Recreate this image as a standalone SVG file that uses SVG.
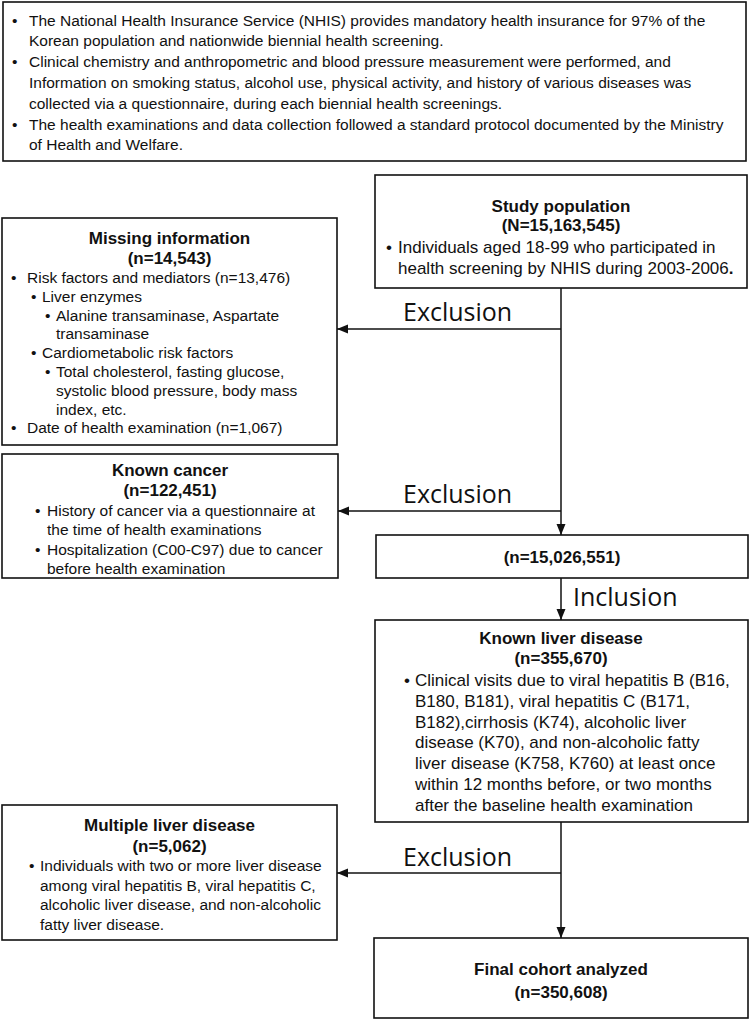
<svg xmlns="http://www.w3.org/2000/svg" width="750" height="1020" viewBox="0 0 750 1020">
<style>
.box{fill:#fff;stroke:#111;stroke-width:1.6}
.t{font-family:"Liberation Sans",Arial,sans-serif;font-size:15.5px;fill:#111}
.tl{font-family:"Liberation Sans",Arial,sans-serif;font-size:17px;fill:#111}
.h{font-family:"Liberation Sans",Arial,sans-serif;font-size:17px;font-weight:bold;fill:#111;text-anchor:middle}
.lab{font-family:"Open Sans","Noto Sans",sans-serif;font-size:25px;fill:#111}
.c{fill:none;stroke:#111;stroke-width:1.5}
</style>
<defs>
<marker id="ah" markerUnits="userSpaceOnUse" markerWidth="11" markerHeight="10" refX="11" refY="5" orient="auto">
<path d="M0,0.5 L11,5 L0,9.5 z" fill="#111"/>
</marker>
</defs>
<rect width="750" height="1020" fill="#fff"/>

<g id="info">
<rect class="box" x="3" y="2" width="743" height="159"/>
<text class="t" x="12" y="25.5">•</text>
<text class="t" x="29" y="25.5">The National Health Insurance Service (NHIS) provides mandatory health insurance for 97% of the</text>
<text class="t" x="29" y="46.3">Korean population and nationwide biennial health screening.</text>
<text class="t" x="12" y="67.1">•</text>
<text class="t" x="29" y="67.1">Clinical chemistry and anthropometric and blood pressure measurement were performed, and</text>
<text class="t" x="29" y="87.9">Information on smoking status, alcohol use, physical activity, and history of various diseases was</text>
<text class="t" x="29" y="108.7">collected via a questionnaire, during each biennial health screenings.</text>
<text class="t" x="12" y="129.5">•</text>
<text class="t" x="29" y="129.5">The health examinations and data collection followed a standard protocol documented by the Ministry</text>
<text class="t" x="29" y="150.3">of Health and Welfare.</text>
</g>

<g id="study">
<rect class="box" x="375" y="175" width="372" height="113"/>
<text class="h" x="561" y="212">Study population</text>
<text class="h" x="561" y="231">(N=15,163,545)</text>
<text class="tl" x="386" y="253">•</text>
<text class="tl" x="398" y="253">Individuals aged 18-99 who participated in</text>
<text class="tl" x="398" y="274">health screening by NHIS during 2003-2006<tspan font-weight="bold">.</tspan></text>
</g>

<g id="missing">
<rect class="box" x="2" y="218" width="335" height="227"/>
<text class="h" x="169.5" y="243.5">Missing information</text>
<text class="h" x="169.5" y="263.5">(n=14,543)</text>
<text class="t" x="11" y="283">•</text>
<text class="t" x="27" y="283">Risk factors and mediators (n=13,476)</text>
<text class="t" x="31" y="301.8">•</text>
<text class="t" x="42" y="301.8">Liver enzymes</text>
<text class="t" x="45" y="320.6">•</text>
<text class="t" x="56" y="320.6">Alanine transaminase, Aspartate</text>
<text class="t" x="56" y="339.4">transaminase</text>
<text class="t" x="31" y="358.2">•</text>
<text class="t" x="42" y="358.2">Cardiometabolic risk factors</text>
<text class="t" x="45" y="377">•</text>
<text class="t" x="56" y="377">Total cholesterol, fasting glucose,</text>
<text class="t" x="56" y="395.8">systolic blood pressure, body mass</text>
<text class="t" x="56" y="414.6">index, etc.</text>
<text class="t" x="11" y="433.4">•</text>
<text class="t" x="27" y="433.4">Date of health examination (n=1,067)</text>
</g>

<g id="cancer">
<rect class="box" x="2" y="454" width="336" height="124"/>
<text class="h" x="170" y="476">Known cancer</text>
<text class="h" x="170" y="496">(n=122,451)</text>
<text class="t" x="35" y="516">•</text>
<text class="t" x="47" y="516">History of cancer via a questionnaire at</text>
<text class="t" x="47" y="535">the time of health examinations</text>
<text class="t" x="35" y="554.5">•</text>
<text class="t" x="47" y="554.5">Hospitalization (C00-C97) due to cancer</text>
<text class="t" x="47" y="573.5">before health examination</text>
</g>

<g id="after-exclusion">
<rect class="box" x="376" y="535" width="372" height="43"/>
<text class="h" x="562" y="563">(n=15,026,551)</text>
</g>

<g id="liver">
<rect class="box" x="375" y="620" width="373" height="202"/>
<text class="h" x="561" y="644">Known liver disease</text>
<text class="h" x="561" y="664">(n=355,670)</text>
<text class="tl" x="404" y="686">•</text>
<text class="tl" x="415" y="686">Clinical visits due to viral hepatitis B (B16,</text>
<text class="tl" x="415" y="706.8">B180, B181), viral hepatitis C (B171,</text>
<text class="tl" x="415" y="727.6">B182),cirrhosis (K74), alcoholic liver</text>
<text class="tl" x="415" y="748.4">disease (K70), and non-alcoholic fatty</text>
<text class="tl" x="415" y="769.2">liver disease (K758, K760) at least once</text>
<text class="tl" x="415" y="790">within 12 months before, or two months</text>
<text class="tl" x="415" y="810.8">after the baseline health examination</text>
</g>

<g id="multiple">
<rect class="box" x="2" y="805" width="335" height="135"/>
<text class="h" x="169.5" y="831">Multiple liver disease</text>
<text class="h" x="169.5" y="852">(n=5,062)</text>
<text class="t" x="29" y="871">•</text>
<text class="t" x="40" y="871">Individuals with two or more liver disease</text>
<text class="t" x="40" y="890.5">among viral hepatitis B, viral hepatitis C,</text>
<text class="t" x="40" y="910">alcoholic liver disease, and non-alcoholic</text>
<text class="t" x="40" y="929.5">fatty liver disease.</text>
</g>

<g id="final">
<rect class="box" x="374" y="938" width="374" height="80"/>
<text class="h" x="561" y="975">Final cohort analyzed</text>
<text class="h" x="561" y="998">(n=350,608)</text>
</g>

<g id="connectors">
<line class="c" x1="561" y1="288" x2="561" y2="535" marker-end="url(#ah)"/>
<line class="c" x1="561" y1="329" x2="337" y2="329" marker-end="url(#ah)"/>
<line class="c" x1="561" y1="511" x2="338" y2="511" marker-end="url(#ah)"/>
<line class="c" x1="561" y1="578" x2="561" y2="620" marker-end="url(#ah)"/>
<line class="c" x1="561" y1="822" x2="561" y2="938" marker-end="url(#ah)"/>
<line class="c" x1="561" y1="873" x2="337" y2="873" marker-end="url(#ah)"/>
<text class="lab" x="403" y="321">Exclusion</text>
<text class="lab" x="403" y="503">Exclusion</text>
<text class="lab" x="573" y="606">Inclusion</text>
<text class="lab" x="403" y="866">Exclusion</text>
</g>
</svg>
